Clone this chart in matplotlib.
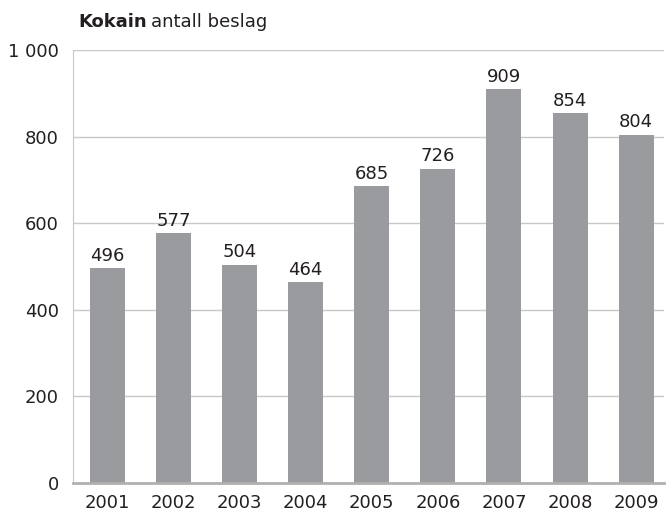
import matplotlib.pyplot as plt
from matplotlib.transforms import offset_copy

years = ['2001', '2002', '2003', '2004', '2005', '2006', '2007', '2008', '2009']
seizures = [496, 577, 504, 464, 685, 726, 909, 854, 804]
yticks = [0, 200, 400, 600, 800, 1000]
ytick_labels = ['0', '200', '400', '600', '800', '1 000']

text_color = '#231f20'
fig = plt.figure(figsize=(6.67, 5.14), dpi=100)
ax = fig.add_axes([0.1094, 0.0603, 0.886, 0.8424])

x = range(len(years))
ax.bar(x, seizures, width=0.53, color='#9a9b9f', zorder=2)
for xi, v in zip(x, seizures):
    ax.text(xi, v + 8, str(v), ha='center', va='bottom', fontsize=13, color=text_color)

ax.set_xlim(-0.52, 8.42)
ax.set_ylim(0, 1000)
ax.set_yticks(yticks)
ax.set_yticklabels(ytick_labels)
ax.set_xticks(list(x))
ax.set_xticklabels(years)
ax.tick_params(length=0, labelsize=13, labelcolor=text_color)
ax.tick_params(axis='y', pad=10)
ax.tick_params(axis='x', pad=8)
ax.grid(axis='y', color='#c8c8c8', linewidth=1, zorder=0)

for side in ['top', 'right']:
    ax.spines[side].set_visible(False)
ax.spines['left'].set_color('#c8c8c8')
ax.spines['bottom'].set_color('#b0b0b0')
ax.spines['bottom'].set_linewidth(2)

# title: bold word followed by regular text
t1 = fig.text(0.117, 0.957, 'Kokain', fontsize=13, fontweight='bold',
              color=text_color, va='center')
fig.canvas.draw()
w = t1.get_window_extent().width
tr = offset_copy(fig.transFigure, fig=fig, x=w + 4, y=0, units='dots')
fig.text(0.117, 0.957, 'antall beslag', fontsize=13, color=text_color,
         va='center', transform=tr)

fig.savefig('out.png', dpi=100)
